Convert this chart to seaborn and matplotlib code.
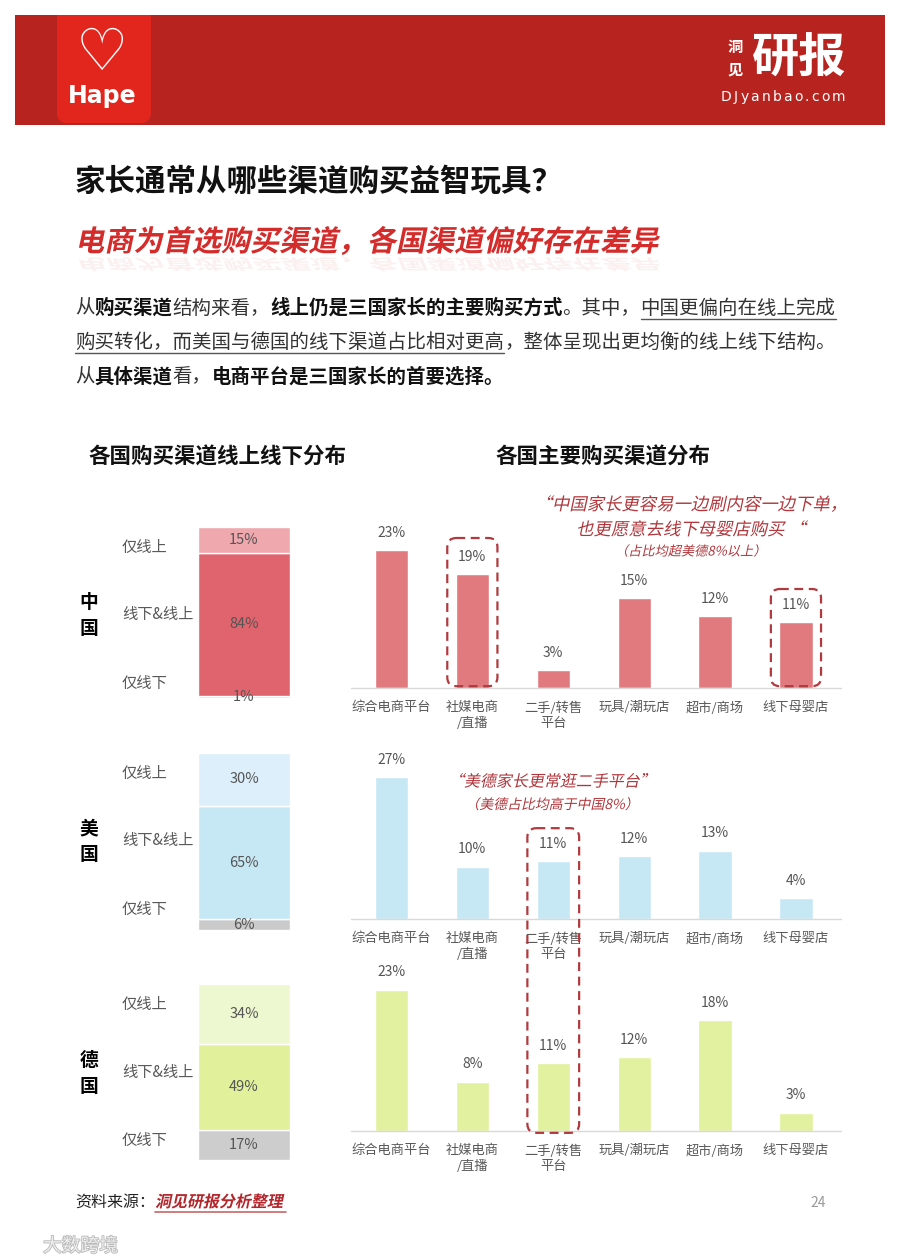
import matplotlib
matplotlib.use('Agg')
import matplotlib.pyplot as plt
import matplotlib.patheffects as pe
from matplotlib.patches import Rectangle, FancyBboxPatch
from matplotlib.transforms import Affine2D
import seaborn as sns
import pandas as pd

# ---- data ----
channels = ['综合电商平台', '社媒电商\n/直播', '二手/转售\n平台', '玩具/潮玩店', '超市/商场', '线下母婴店']
cn_channel = [23, 19, 3, 15, 12, 11]
us_channel = [27, 10, 11, 12, 13, 4]
de_channel = [23, 8, 11, 12, 18, 3]

mode_labels = ['仅线上', '线下&线上', '仅线下']
cn_mode = [15, 84, 1]
us_mode = [30, 65, 6]
de_mode = [34, 49, 17]

countries = ['中国', '美国', '德国']

W, H = 900, 1260
RED = '#B0363B'
GREY = '#595959'


class Slant(pe.AbstractPathEffect):
    # fake italic, the CJK fonts have no italic face
    def __init__(self, deg=12, flip=False):
        super().__init__()
        self.tr = Affine2D().skew_deg(deg, 0)
        if flip:
            self.tr = self.tr.scale(1, -0.5).translate(0, -26)

    def draw_path(self, renderer, gc, tpath, affine, rgbFace=None):
        renderer.draw_path(gc, tpath, self.tr + affine, rgbFace)


sns.set_style('white')
plt.rcParams['font.family'] = ['Noto Sans CJK SC', 'DejaVu Sans']

fig = plt.figure(figsize=(W / 100, H / 100), dpi=100)
ov = fig.add_axes([0, 0, 1, 1], zorder=10)
ov.set_xlim(0, W)
ov.set_ylim(H, 0)
ov.axis('off')
rend = fig.canvas.get_renderer()


def px_axes(x, y, w, h):
    return fig.add_axes([x / W, 1 - (y + h) / H, w / W, h / H])


def txt(x, y, s, size, color='#222222', weight='normal', ha='left', slant=False, **kw):
    t = ov.text(x, y, s, fontsize=size, color=color, fontweight=weight,
                ha=ha, va='center', **kw)
    if slant:
        t.set_path_effects([Slant()])
    return t


def width(t):
    return t.get_window_extent(rend).width


def runs(x, y, parts, size=14):
    for s, bold, under in parts:
        t = txt(x, y, s, size, '#111111' if bold else '#333333', 'bold' if bold else 'normal')
        w = width(t)
        if under:
            ov.plot([x, x + w], [y + 11, y + 11], color='#555555', lw=1)
        x += w


# ---- header band ----
ov.add_patch(Rectangle((15, 15), 870, 110, color='#B7241F', lw=0))
ov.add_patch(FancyBboxPatch((57, 15), 94, 108, boxstyle='round,pad=0,rounding_size=10',
                            color='#E2261D', lw=0))
ov.add_patch(Rectangle((57, 15), 94, 30, color='#E2261D', lw=0))
txt(102, 54, '♡', 42, 'white', 'bold', ha='center', family='DejaVu Sans')
txt(102, 96, 'Hape', 17, 'white', 'bold', ha='center', family='DejaVu Sans')
txt(735, 47, '洞', 11, 'white', 'bold', ha='center')
txt(735, 70, '见', 11, 'white', 'bold', ha='center')
txt(799, 59, '研报', 34, 'white', 'bold', ha='center')
x = 721
for ch in 'DJyanbao.com':
    t = txt(x, 97, ch, 10, 'white', family='DejaVu Sans')
    x += width(t) + 2.2

# ---- titles and text ----
txt(75, 182, '家长通常从哪些渠道购买益智玩具？', 22, '#111111', 'bold')
sub = '电商为首选购买渠道，各国渠道偏好存在差异'
txt(75, 242, sub, 21, '#D42B2B', 'bold', slant=True)
refl = txt(75, 242, sub, 21, '#D42B2B', 'bold', alpha=0.07)
refl.set_path_effects([Slant(flip=True)])

runs(75, 308, [('从', 0, 0), ('购买渠道', 1, 0), ('结构来看，', 0, 0),
               ('线上仍是三国家长的主要购买方式', 1, 0), ('。其中，', 0, 0),
               ('中国更偏向在线上完成', 0, 1)])
runs(75, 342, [('购买转化，而美国与德国的线下渠道占比相对更高', 0, 1),
               ('，整体呈现出更均衡的线上线下结构。', 0, 0)])
runs(75, 377, [('从', 0, 0), ('具体渠道', 1, 0), ('看，', 0, 0),
               ('电商平台是三国家长的首要选择。', 1, 0)])

txt(88, 457, '各国购买渠道线上线下分布', 15.5, '#111111', 'bold')
txt(495, 457, '各国主要购买渠道分布', 15.5, '#111111', 'bold')

# ---- charts ----
panels = [
    (cn_mode, cn_channel, 527, 171, 508, 180,
     ['#EFA8AE', '#E0646D', '#D9D9D9'], '#E07A7F'),
    (us_mode, us_channel, 753, 177, 761.5, 157.5,
     ['#DCEFFA', '#C6E8F4', '#CACACA'], '#C6E8F4'),
    (de_mode, de_channel, 984, 176, 946.5, 184.5,
     ['#EDF8D1', '#E1F19B', '#CDCDCD'], '#E2F19F'),
]

right_axes = []
for name, (mode, chan, ly, lh, ry, rh, mcols, bcol) in zip(countries, panels):
    # stacked online/offline bar
    axl = px_axes(198, ly, 92, lh)
    bottom = 0
    for i in [2, 1, 0]:
        bars = axl.bar(0, mode[i], bottom=bottom, width=1, color=mcols[i],
                       edgecolor='white', linewidth=1)
        axl.bar_label(bars, labels=[f'{mode[i]}%'], label_type='center',
                      fontsize=10.5, color='#555555')
        bottom += mode[i]
    axl.set_xlim(-0.5, 0.5)
    axl.set_ylim(0, bottom)
    axl.axis('off')
    for lab, off in zip(mode_labels, [20, 88, 156]):
        txt(122, ly + off, lab, 11, GREY)
    txt(89, ly + 76, name[0], 13.5, '#000000', 'bold', ha='center')
    txt(89, ly + 102, name[1], 13.5, '#000000', 'bold', ha='center')

    # channel bars
    axr = px_axes(351, ry, 485.4, rh)
    df = pd.DataFrame({'channel': channels, 'share': chan})
    sns.barplot(data=df, x='channel', y='share', color=bcol, saturation=1,
                width=0.41, errorbar=None, ax=axr)
    axr.bar_label(axr.containers[0], labels=[f'{v}%' for v in chan],
                  padding=7.5, fontsize=10, color='#555555')
    axr.set_xlim(-0.5, 5.5)
    axr.set_ylim(0, 30)
    axr.set_xlabel('')
    axr.set_ylabel('')
    axr.set_yticks([])
    axr.tick_params(axis='x', length=0, pad=9.5, labelsize=9.5, labelcolor=GREY)
    for lab in axr.get_xticklabels():
        lab.set_linespacing(1.25)
    for s in axr.spines.values():
        s.set_visible(False)
    axr.axhline(0, xmin=0, xmax=1.01, color='#D9D9D9', lw=1, clip_on=False)
    axr.set_facecolor('none')
    right_axes.append(axr)

ax_cn, ax_us, ax_de = right_axes


def dashed_box(ax_top, i, y_top, ax_bot, y_bot, half=0.32):
    x0, y0 = ax_top.transData.transform((i - half, y_top))
    x1, y1 = ax_bot.transData.transform((i + half, y_bot))
    top, bot = H - y0, H - y1
    ov.add_patch(FancyBboxPatch((x0, top), x1 - x0, bot - top,
                                boxstyle='round,pad=0,rounding_size=9', fill=False,
                                ec='#B2393E', lw=1.6, ls=(0, (4, 2.5))))


dashed_box(ax_cn, 1, cn_channel[1] + 6, ax_cn, 0.3, 0.31)
dashed_box(ax_cn, 5, cn_channel[5] + 5.5, ax_cn, 0.3, 0.31)
dashed_box(ax_us, 2, us_channel[2] + 6.3, ax_de, -0.3)

# ---- callouts ----
txt(691, 505, '“中国家长更容易一边刷内容一边下单，', 12.5, RED, ha='center', slant=True)
txt(691, 530, '也更愿意去线下母婴店购买 “', 12.5, RED, ha='center', slant=True)
txt(691, 552, '（占比均超美德8%以上）', 9.5, RED, ha='center', slant=True)
txt(552, 782, '“美德家长更常逛二手平台”', 11.5, RED, ha='center', slant=True)
txt(552, 805, '（美德占比均高于中国8%）', 10, RED, ha='center', slant=True)

# ---- footer ----
t = txt(75, 1202, '资料来源：', 11.5, '#222222')
x = 75 + width(t)
t = txt(x, 1202, '洞见研报分析整理', 11.5, '#B3262B', 'bold', slant=True)
ov.plot([x, x + width(t) + 3], [1212, 1212], color='#B3262B', lw=1.2, alpha=0.7)
txt(818, 1203, '24', 10, '#999999', ha='center')
wm = txt(43, 1246, '大数跨境', 13.5, '#EDEDED')
wm.set_path_effects([pe.withStroke(linewidth=1.2, foreground='#B8B8B8')])

fig.savefig('out.png', dpi=100)
